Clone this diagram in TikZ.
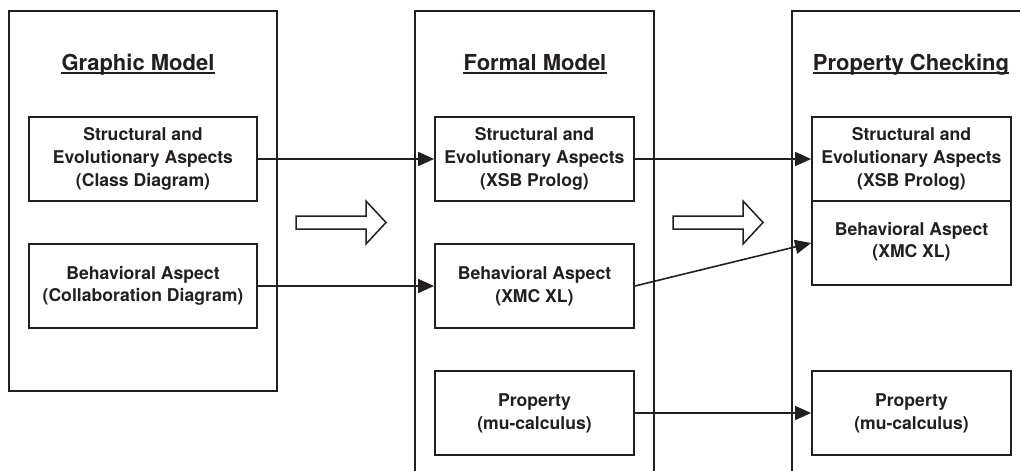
\documentclass[tikz,border=0pt]{standalone}
\usepackage{fontspec}
\setmainfont{TeX Gyre Heros}
\usetikzlibrary{arrows.meta}
\definecolor{ink}{RGB}{35,31,32}
\begin{document}
\begin{tikzpicture}[x=1pt,y=-1pt,
  panel/.style={draw=ink, line width=1.8pt},
  item/.style={draw=ink, line width=1.8pt, minimum height=84pt, align=center,
    inner sep=0pt, font=\fontsize{17.6}{22.7}\selectfont\bfseries, text=ink},
  heading/.style={inner sep=0pt, anchor=base, font=\fontsize{22}{26}\selectfont\bfseries, text=ink},
  flow/.style={draw=ink, line width=1.6pt, -{Triangle[length=16pt,width=14pt]}},
  hollow/.style={draw=ink, line width=1.5pt, fill=white, line join=miter}]
\useasboundingbox (0,0) rectangle (1020,471);

% three panels
\draw[panel] (9,11) rectangle (277,391);
\draw[panel] (415,472) -- (415,11) -- (654,11) -- (654,472);
\draw[panel] (792,472) -- (792,11) -- (1022,11);

% panel headings
\node[heading] (t1) at (138,70.5) {Graphic Model};
\node[heading] (t2) at (535,70.5) {Formal Model};
\node[heading] (t3) at (911,70.5) {Property Checking};
\foreach \t in {t1,t2,t3}
  \draw[ink, line width=1.3pt] ([yshift=-2.4pt]\t.base west) -- ([yshift=-2.4pt]\t.base east);

% graphic model
\node[item, minimum width=228pt] (L1) at (143,159) {Structural and\\Evolutionary Aspects\\(Class Diagram)};
\node[item, minimum width=228pt] (L2) at (143,286) {Behavioral Aspect\\(Collaboration Diagram)};

% formal model
\node[item, minimum width=199pt] (M1) at (534.5,159) {Structural and\\Evolutionary Aspects\\(XSB Prolog)};
\node[item, minimum width=199pt] (M2) at (534.5,286) {Behavioral Aspect\\(XMC XL)};
\node[item, minimum width=199pt] (M3) at (534.5,413) {Property\\(mu-calculus)};

% property checking
\node[item, minimum width=199pt] (R1) at (911.5,159) {Structural and\\Evolutionary Aspects\\(XSB Prolog)};
\node[item, minimum width=199pt, text depth=6pt] (R2) at (911.5,243) {Behavioral Aspect\\(XMC XL)};
\node[item, minimum width=199pt] (R3) at (911.5,413) {Property\\(mu-calculus)};

% transformation arrows
\draw[hollow] (296,216) -- (366,216) -- (366,201) -- (386,222.5) -- (366,244) -- (366,229) -- (296,229) -- cycle;
\draw[hollow] (673,216) -- (743,216) -- (743,201) -- (763,222.5) -- (743,244) -- (743,229) -- (673,229) -- cycle;

% connectors
\draw[flow] (L1) -- (M1);
\draw[flow] (L2) -- (M2);
\draw[flow] (M1) -- (R1);
\draw[flow] (M2.east) -- (R2.west);
\draw[flow] (M3) -- (R3);
\end{tikzpicture}
\end{document}
